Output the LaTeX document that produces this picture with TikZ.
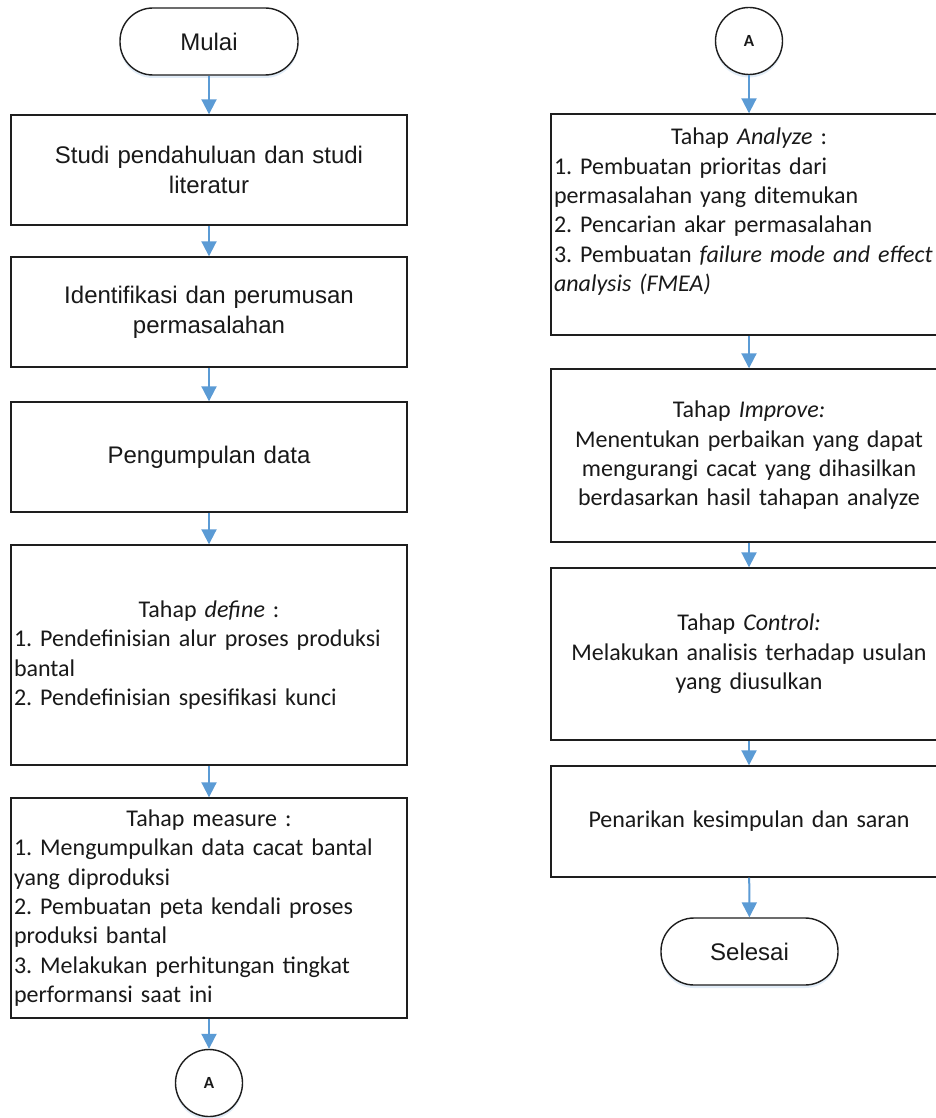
\documentclass[tikz,border=0pt]{standalone}
\usepackage{fontspec}
\setmainfont{Carlito}
\newfontfamily\arialf{Liberation Sans}
\usetikzlibrary{arrows.meta,shadows}
\definecolor{arrowblue}{RGB}{91,155,213}
\definecolor{boxline}{RGB}{30,30,30}
\definecolor{txt}{RGB}{25,25,25}
\frenchspacing
\begin{document}
\frenchspacing
\begin{tikzpicture}[x=1pt,y=-1pt, text=txt,
  procbox/.style={draw=boxline, line width=1.4pt, minimum width=396pt, inner sep=0pt, fill=white, text width=390pt},
  arialtext/.style={font=\arialf\fontsize{24pt}{30pt}\selectfont, align=center},
  calitext/.style={font=\frenchspacing\fontsize{24pt}{29.3pt}\selectfont},
  termbox/.style={draw=boxline, line width=1.4pt, rounded corners=33pt, minimum width=178pt, minimum height=67pt, inner sep=0pt, fill=white, font=\arialf\fontsize{24pt}{30pt}\selectfont,
    drop shadow={shadow xshift=0pt, shadow yshift=-3pt, fill=arrowblue, opacity=0.18}},
  connector/.style={draw=boxline, line width=1.4pt, circle, minimum size=67pt, inner sep=0pt, fill=white, font=\bfseries\fontsize{17pt}{19pt}\selectfont,
    drop shadow={shadow xshift=0pt, shadow yshift=-3pt, fill=arrowblue, opacity=0.18}},
  flow/.style={draw=arrowblue, line width=2pt, -{Triangle[width=15pt,length=15pt]}}
]
\useasboundingbox (0,0) rectangle (936,1118);
\clip (0,0) rectangle (936,1118);
\fill[white] (0,0) rectangle (936,1118);

% left column
\node[termbox] (start) at (209,41.5) {Mulai};
\node[procbox, minimum height=110pt, arialtext] (b1) at (209,170) {Studi pendahuluan dan studi\\literatur};
\node[procbox, minimum height=110pt, arialtext] (b2) at (209,312) {Identifikasi dan perumusan\\permasalahan};
\node[procbox, minimum height=110pt, arialtext] (b3) at (209,457) {Pengumpulan data};
\node[procbox, minimum height=220pt, calitext, align=left] (b4) at (209,655) {\makebox[390pt][c]{Tahap \textit{define} :}\\1. Pendefinisian alur proses produksi\\bantal\\2. Pendefinisian spesifikasi kunci};
\node[procbox, minimum height=220pt, calitext, align=left] (b5) at (209,908) {\makebox[390pt][c]{Tahap measure :}\\1. Mengumpulkan data cacat bantal\\yang diproduksi\\2. Pembuatan peta kendali proses\\produksi bantal\\3. Melakukan perhitungan tingkat\\performansi saat ini};
\node[connector] (a1) at (209,1083) {A};

% right column
\node[connector] (a2) at (749,41) {A};
\node[procbox, minimum height=221pt, calitext, align=left] (r1) at (749,224.5) {\makebox[390pt][c]{Tahap \textit{Analyze} :}\\1. Pembuatan prioritas dari\\permasalahan yang ditemukan\\2. Pencarian akar permasalahan\\3. Pembuatan \textit{failure mode and effect}\\\textit{analysis (FMEA)}\\\mbox{}};
\node[procbox, minimum height=173pt, calitext, align=center] (r2) at (749,455.5) {Tahap \textit{Improve:}\\Menentukan perbaikan yang dapat\\mengurangi cacat yang dihasilkan\\berdasarkan hasil tahapan analyze};
\node[procbox, minimum height=172pt, calitext, align=center] (r3) at (749,654) {Tahap \textit{Control:}\\Melakukan analisis terhadap usulan\\yang diusulkan};
\node[procbox, minimum height=111pt, calitext, align=center] (r4) at (749,821.5) {Penarikan kesimpulan dan saran};
\node[termbox, minimum width=177pt] (stop) at (749.5,951.5) {Selesai};

% connectors
\draw[flow] (start) -- (b1);
\draw[flow] (b1) -- (b2);
\draw[flow] (b2) -- (b3);
\draw[flow] (b3) -- (b4);
\draw[flow] (b4) -- (b5);
\draw[flow] (b5) -- (a1);
\draw[flow] (a2) -- (r1);
\draw[flow] (r1) -- (r2);
\draw[flow] (r2) -- (r3);
\draw[flow] (r3) -- (r4);
\draw[flow] (r4) -- (stop);
\end{tikzpicture}
\end{document}
